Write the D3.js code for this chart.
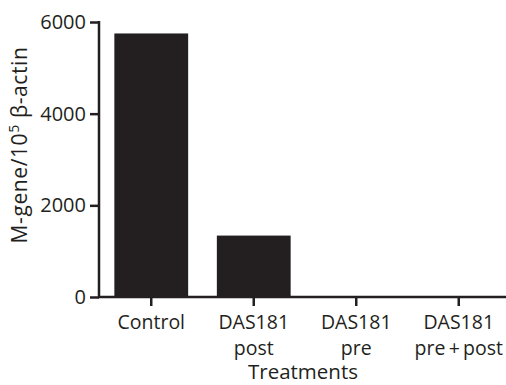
<!DOCTYPE html>
<html><head><meta charset="utf-8">
<script src="https://cdn.jsdelivr.net/npm/d3@7"></script>
<style>body{margin:0;background:#fff}svg{display:block}text{font-family:"Open Sans",sans-serif;fill:#231f20}</style>
</head><body><svg id="c" width="506" height="385"></svg>
<script>
const categories = ["Control", "DAS181|post", "DAS181|pre", "DAS181|pre+post"];
const values = [5750, 1340, 0, 0];
const yTicks = [0, 2000, 4000, 6000];

const svg = d3.select("#c");
const color = "#231f20";
const x = d3.scaleBand().domain(categories).range([100, 510]).paddingInner(0.28).paddingOuter(0.14);
const y = d3.scaleLinear().domain([0, 6000]).range([297, 22]);

svg.selectAll("rect.bar").data(categories).join("rect")
  .attr("x", d => x(d)).attr("width", x.bandwidth())
  .attr("y", (d,i) => y(values[i])).attr("height", (d,i) => y(0) - y(values[i]))
  .attr("fill", color);

const yAxis = svg.append("g").attr("transform", "translate(99,0)")
  .call(d3.axisLeft(y).tickValues(yTicks).tickFormat(d3.format("d")).tickSize(9).tickPadding(4).tickSizeOuter(0));
const xAxis = svg.append("g").attr("transform", "translate(0,297)")
  .call(d3.axisBottom(x).tickSize(9).tickSizeOuter(0).tickFormat(""));
[yAxis, xAxis].forEach(g => {
  g.select(".domain").attr("stroke", color).attr("stroke-width", 2.5);
  g.selectAll(".tick line").attr("stroke", color).attr("stroke-width", 2.5);
});
yAxis.select(".domain").attr("d", "M0,21V298");
xAxis.select(".domain").attr("d", "M98,0H506");
yAxis.selectAll(".tick text").attr("font-size", 20).attr("fill", color).style("font-family", '"Open Sans",sans-serif');

xAxis.selectAll(".tick").each(function(d) {
  const t = d3.select(this).append("text").attr("text-anchor", "middle").attr("font-size", 19.5).attr("fill", color);
  d.split("|").forEach((line, i) => {
    t.append("tspan").attr("x", 0).attr("y", 32 + i * 26).text(line.replace("+", "\u2009+\u2009"));
  });
});

svg.append("text").attr("x", 303).attr("y", 379).attr("text-anchor", "middle")
  .attr("font-size", 20.5).text("Treatments");

const yl = svg.append("text").attr("transform", "translate(27,145) rotate(-90)")
  .attr("text-anchor", "middle").attr("font-size", 21).attr("letter-spacing", 0.6);
yl.append("tspan").text("M-gene/10");
yl.append("tspan").attr("font-size", 14).attr("dy", -8).text("5");
yl.append("tspan").attr("dy", 8).text(" β-actin");
</script></body></html>
